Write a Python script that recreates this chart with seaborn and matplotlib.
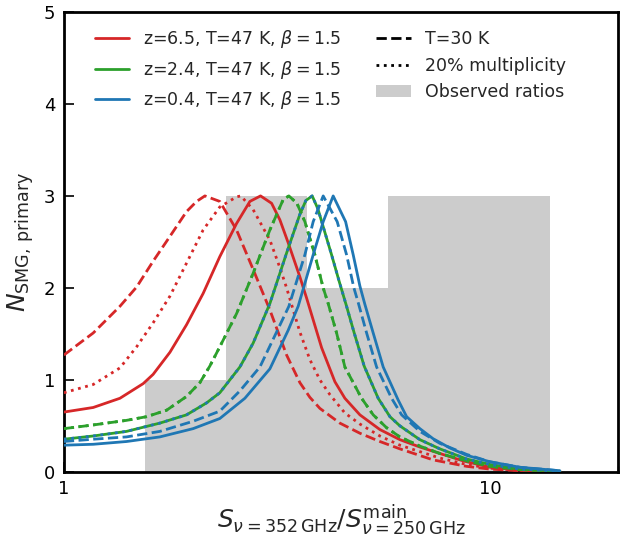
import numpy as np
import pandas as pd
import matplotlib
matplotlib.use("Agg")
import matplotlib.pyplot as plt
import seaborn as sns
from matplotlib.lines import Line2D
from matplotlib.patches import Patch
from matplotlib.ticker import NullFormatter

# ---------------- data ----------------
obs_edges = [1.55, 2.40, 3.72, 5.77, 8.95, 13.87]
obs_counts = [1, 3, 2, 3, 3]

# z=6.5 (red)
red_solid_x = [1.000, 1.172, 1.354, 1.536, 1.620, 1.774, 1.941, 2.123, 2.323, 2.543, 2.733, 2.895,
               3.073, 3.214, 3.362, 3.581, 3.713, 4.027, 4.327, 4.567, 4.953, 5.518, 6.149, 6.850,
               7.630, 8.644, 10.0, 11.76, 14.6]
red_solid_y = [0.65, 0.70, 0.80, 0.96, 1.06, 1.30, 1.60, 1.94, 2.34, 2.70, 2.94, 3.00,
               2.92, 2.74, 2.49, 2.12, 1.89, 1.35, 0.98, 0.80, 0.62, 0.46, 0.35, 0.27,
               0.20, 0.12, 0.05, 0.02, 0.005]
red_dash_x = [1.000, 1.172, 1.354, 1.482, 1.620, 1.774, 1.941, 2.049, 2.143, 2.323, 2.543, 2.782,
              3.045, 3.333, 3.581, 3.780, 3.990, 4.445, 4.953, 5.518, 6.149, 7.359, 8.819, 10.0,
              11.76, 14.6]
red_dash_y = [1.27, 1.51, 1.80, 2.01, 2.29, 2.56, 2.83, 2.94, 3.00, 2.94, 2.63, 2.20,
              1.76, 1.27, 0.97, 0.81, 0.69, 0.53, 0.42, 0.33, 0.25, 0.13, 0.06, 0.03,
              0.012, 0.003]
red_dot_x = [1.000, 1.172, 1.354, 1.482, 1.620, 1.774, 1.941, 2.123, 2.323, 2.543, 2.603, 2.782,
             3.045, 3.214, 3.333, 3.454, 3.581, 3.780, 3.990, 4.211, 4.567, 4.953, 5.518, 6.149,
             6.850, 7.630, 8.819, 10.0, 11.76, 14.6]
red_dot_y = [0.86, 0.95, 1.13, 1.36, 1.62, 1.91, 2.27, 2.63, 2.88, 2.99, 3.00, 2.85,
             2.52, 2.22, 2.00, 1.76, 1.52, 1.22, 1.00, 0.84, 0.64, 0.52, 0.39, 0.29,
             0.22, 0.15, 0.08, 0.04, 0.015, 0.003]

# z=2.4 (green)
green_solid_x = [1.000, 1.172, 1.403, 1.680, 1.941, 2.163, 2.323, 2.589, 2.782, 3.045, 3.333, 3.581,
                 3.699, 3.827, 3.947, 4.077, 4.250, 4.429, 4.609, 4.803, 5.069, 5.468, 5.826, 6.149,
                 6.850, 7.630, 8.819, 10.0, 11.76, 14.6]
green_solid_y = [0.355, 0.39, 0.44, 0.53, 0.62, 0.75, 0.86, 1.14, 1.40, 1.83, 2.38, 2.80,
                 2.95, 3.00, 2.86, 2.64, 2.36, 2.07, 1.80, 1.51, 1.15, 0.80, 0.60, 0.50,
                 0.35, 0.25, 0.14, 0.08, 0.03, 0.007]
green_dash_x = [1.000, 1.172, 1.403, 1.564, 1.742, 1.941, 2.086, 2.201, 2.323, 2.543, 2.782, 3.045,
                3.272, 3.374, 3.524, 3.679, 3.883, 4.062, 4.173, 4.367, 4.567, 4.999, 5.322, 5.722,
                6.149, 6.850, 7.630, 8.819, 10.0, 11.76, 14.6]
green_dash_y = [0.47, 0.51, 0.56, 0.60, 0.67, 0.82, 0.97, 1.15, 1.36, 1.72, 2.16, 2.63,
                2.96, 3.00, 2.92, 2.72, 2.36, 2.00, 1.83, 1.51, 1.14, 0.80, 0.62, 0.48,
                0.38, 0.28, 0.20, 0.12, 0.06, 0.025, 0.005]
green_dot_x = [1.000, 1.172, 1.403, 1.564, 1.742, 1.941, 2.086, 2.201, 2.323, 2.543, 2.782, 3.045,
               3.272, 3.374, 3.524, 3.679, 3.883, 4.062, 4.173, 4.367, 4.567, 4.999, 5.322, 5.722,
               6.149, 6.850, 7.630, 8.819, 10.0, 11.76, 14.6]
green_dot_y = [0.47, 0.51, 0.56, 0.60, 0.67, 0.82, 0.97, 1.15, 1.36, 1.72, 2.16, 2.63,
               2.96, 3.00, 2.92, 2.72, 2.36, 2.00, 1.83, 1.51, 1.14, 0.80, 0.62, 0.48,
               0.38, 0.28, 0.20, 0.12, 0.06, 0.025, 0.005]

# z=0.4 (blue)
blue_solid_x = [1.000, 1.172, 1.403, 1.680, 2.011, 2.323, 2.660, 3.045, 3.362, 3.548, 3.848, 4.062,
                4.287, 4.585, 4.777, 4.953, 5.089, 5.322, 5.618, 6.093, 6.376, 6.850, 7.359, 8.054,
                8.819, 10.0, 11.76, 14.6]
blue_solid_y = [0.29, 0.30, 0.33, 0.38, 0.47, 0.58, 0.80, 1.12, 1.54, 1.80, 2.36, 2.72,
                3.00, 2.72, 2.36, 2.02, 1.82, 1.51, 1.14, 0.78, 0.60, 0.47, 0.36, 0.26,
                0.18, 0.11, 0.05, 0.012]
blue_dash_x = [1.000, 1.172, 1.403, 1.680, 2.011, 2.323, 2.589, 2.885, 3.374, 3.679, 3.848, 4.062,
               4.381, 4.609, 4.795, 4.908, 5.136, 5.421, 5.879, 6.206, 6.850, 7.630, 8.819, 10.0,
               11.76, 14.6]
blue_dash_y = [0.33, 0.355, 0.38, 0.44, 0.55, 0.66, 0.88, 1.14, 1.80, 2.36, 2.72, 3.00,
               2.72, 2.36, 2.00, 1.84, 1.51, 1.14, 0.80, 0.62, 0.44, 0.31, 0.19, 0.11,
               0.05, 0.012]
blue_dot_x = [1.000, 1.172, 1.403, 1.680, 1.941, 2.163, 2.323, 2.589, 2.782, 3.045, 3.333, 3.581,
              3.699, 3.827, 3.947, 4.077, 4.250, 4.429, 4.609, 4.803, 5.069, 5.468, 5.826, 6.149,
              6.850, 7.630, 8.819, 10.0, 11.76, 14.6]
blue_dot_y = [0.355, 0.39, 0.44, 0.53, 0.62, 0.75, 0.86, 1.14, 1.40, 1.83, 2.38, 2.80,
              2.95, 3.00, 2.86, 2.64, 2.36, 2.07, 1.80, 1.51, 1.15, 0.80, 0.60, 0.50,
              0.35, 0.25, 0.14, 0.08, 0.03, 0.007]

legend_labels = [r"z=6.5, T=47 K, $\beta = 1.5$",
                 r"z=2.4, T=47 K, $\beta = 1.5$",
                 r"z=0.4, T=47 K, $\beta = 1.5$",
                 "T=30 K", "20% multiplicity", "Observed ratios"]
x_major_ticks = [1, 10]
x_major_labels = ["1", "10"]
x_minor_ticks = [2, 3, 4, 5, 6, 7, 8, 9, 20]
y_ticks = [0, 1, 2, 3, 4, 5]

# ---------------- plotting ----------------
sns.set_style("ticks")
plt.rcParams["font.family"] = ["DejaVu Sans"]
plt.rcParams["mathtext.fontset"] = "dejavusans"

RED, GREEN, BLUE = "#d62728", "#2ca02c", "#1f77b4"
GRAY = "#cccccc"

fig = plt.figure(figsize=(6.2, 5.43), dpi=100)
ax = fig.add_axes([0.103, 0.131, 0.894, 0.847])
ax.set_xscale("log")

edges = np.array(obs_edges)
ax.bar(edges[:-1], obs_counts, width=np.diff(edges), align="edge",
       color=GRAY, edgecolor="none", zorder=1)

curves = [
    (red_solid_x, red_solid_y, RED, "-"),
    (red_dash_x, red_dash_y, RED, "--"),
    (red_dot_x, red_dot_y, RED, ":"),
    (green_solid_x, green_solid_y, GREEN, "-"),
    (green_dash_x, green_dash_y, GREEN, "--"),
    (green_dot_x, green_dot_y, GREEN, ":"),
    (blue_solid_x, blue_solid_y, BLUE, "-"),
    (blue_dash_x, blue_dash_y, BLUE, "--"),
    (blue_dot_x, blue_dot_y, BLUE, ":"),
]
for i, (xs, ys, c, ls) in enumerate(curves):
    df = pd.DataFrame({"x": xs, "y": ys})
    sns.lineplot(data=df, x="x", y="y", ax=ax, color=c, linestyle=ls,
                 linewidth=2.0, legend=False, zorder=3 + i, estimator=None)

ax.set_xlim(1, 20)
ax.set_ylim(0, 5)

ax.set_xticks(x_major_ticks)
ax.set_xticklabels(x_major_labels)
ax.set_xticks(x_minor_ticks, minor=True)
ax.xaxis.set_minor_formatter(NullFormatter())
ax.set_yticks(y_ticks)
ax.set_yticklabels([str(v) for v in y_ticks])
ax.tick_params(which="both", direction="in", top=False, right=False,
               labelsize=13, colors="black")
ax.tick_params(which="major", length=7, width=1.2, pad=6)
ax.tick_params(which="minor", length=4, width=1.0)
for sp in ax.spines.values():
    sp.set_linewidth(2.0)
    sp.set_color("black")
    sp.set_visible(True)

ax.set_xlabel(r"$S_{\nu=352\,\mathrm{GHz}}/S^{\mathrm{main}}_{\nu=250\,\mathrm{GHz}}$",
              fontsize=18, labelpad=3)
ax.set_ylabel(r"$N_{\mathrm{SMG,\,primary}}$", fontsize=18, labelpad=6)

handles = [Line2D([], [], color=RED, lw=2.0),
           Line2D([], [], color=GREEN, lw=2.0),
           Line2D([], [], color=BLUE, lw=2.0),
           Line2D([], [], color="black", lw=2.0, ls="--"),
           Line2D([], [], color="black", lw=2.0, ls=":"),
           Patch(facecolor=GRAY, edgecolor="none")]
ax.legend(handles, legend_labels, ncol=2, frameon=False, fontsize=12.5,
          loc="upper left", bbox_to_anchor=(0.043, 0.98), borderaxespad=0)

fig.savefig("out.png", dpi=100)
